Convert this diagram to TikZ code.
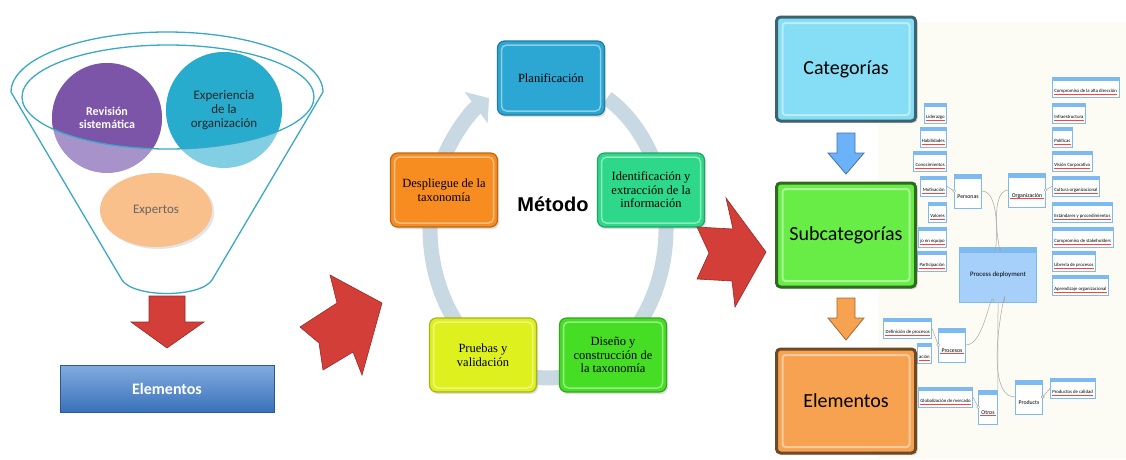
\documentclass[tikz,border=0pt]{standalone}
\usepackage{fontspec}
\setmainfont{Carlito}
\newfontfamily\stagefont{Liberation Serif}
\newfontfamily\titlefont{Liberation Sans}
\usetikzlibrary{arrows.meta,shapes.geometric,shadows}
\definecolor{funnelline}{RGB}{58,168,200}
\definecolor{revdark}{RGB}{124,84,168}
\definecolor{revlight}{RGB}{168,146,202}
\definecolor{expdark}{RGB}{40,172,206}
\definecolor{explight}{RGB}{130,206,226}
\definecolor{expertfill}{RGB}{250,192,140}
\definecolor{arrowred}{RGB}{212,62,56}
\definecolor{elemblue}{RGB}{62,126,206}
\definecolor{ringcol}{RGB}{200,217,228}
\definecolor{planfill}{RGB}{44,166,210}
\definecolor{identfill}{RGB}{46,216,138}
\definecolor{disfill}{RGB}{70,222,36}
\definecolor{pruefill}{RGB}{222,240,30}
\definecolor{despfill}{RGB}{247,140,32}
\definecolor{catfill}{RGB}{134,222,246}
\definecolor{subfill}{RGB}{104,236,70}
\definecolor{elefill}{RGB}{246,162,80}
\definecolor{mmblue}{RGB}{126,186,242}
\definecolor{mmbody}{RGB}{166,208,250}
\definecolor{mmback}{RGB}{252,252,244}
\tikzset{funnel/.style={draw=funnelline, line width=1.3pt},
         source/.style={circle, inner sep=0pt, minimum size=#1, align=center},
         stagebox/.style={draw=#1!75!black, fill=#1, rounded corners=7pt, line width=1.2pt,
                          minimum width=107pt, minimum height=74pt, inner sep=2pt, align=center,
                          font=\stagefont\fontsize{12.5}{13.5}\selectfont,
                          drop shadow={opacity=.25, shadow xshift=1.5pt, shadow yshift=-2pt},
                          path picture={\draw[#1!55!white, line width=1.5pt, rounded corners=5pt]
                            ([shift={(4pt,-4pt)}]path picture bounding box.north west) rectangle
                            ([shift={(-4pt,4pt)}]path picture bounding box.south east);}},
         levelbox/.style={draw=#1!45!black, fill=#1, rounded corners=4pt, line width=3pt,
                          minimum width=139pt, minimum height=104pt,
                          font=\fontsize{20}{24}\selectfont,
                          drop shadow={opacity=.3, shadow xshift=2pt, shadow yshift=-2pt},
                          path picture={\draw[#1!55!white, line width=2pt, rounded corners=3pt]
                            ([shift={(6pt,-6pt)}]path picture bounding box.north west) rectangle
                            ([shift={(-6pt,6pt)}]path picture bounding box.south east);}},
         ring/.style={draw=ringcol, line width=15pt, -{Triangle[length=16pt, width=38pt]}},
         redarrow/.style={fill=arrowred, draw=arrowred!70!black, line width=.6pt},
         downarrow/.style={fill=#1, draw=#1!65!black, line width=.8pt},
         mmheader/.style={path picture={\fill[mmblue] (path picture bounding box.north west)
                            rectangle ([yshift=-#1]path picture bounding box.north east);}},
         mmleaf/.style={draw=mmblue, fill=white, line width=.7pt, inner xsep=2pt, inner ysep=2pt,
                        text height=13pt, text depth=3pt, font=\fontsize{4.8}{5}\selectfont,
                        mmheader=4pt},
         mmtopic/.style={draw=mmblue, fill=white, line width=.7pt, inner xsep=3pt, inner ysep=4pt,
                         text height=20pt, text depth=6pt, font=\fontsize{5.8}{6}\selectfont,
                         mmheader=5pt},
         mmroot/.style={draw=mmblue, fill=mmbody, line width=.8pt, minimum width=77pt,
                        minimum height=55pt, font=\fontsize{6.8}{7}\selectfont, mmheader=5pt},
         spell/.style={append after command={([xshift=2pt,yshift=#1]\tikzlastnode.south west)
                        edge[draw=red!75, line width=.35pt] ([xshift=-2pt,yshift=#1]\tikzlastnode.south east)}},
         spell/.default=4pt,
         mmline/.style={draw=black!35, line width=.5pt},
         mmknob/.style={circle, draw=black!40, fill=white, inner sep=0pt, minimum size=3pt}}
\begin{document}
\begin{tikzpicture}[x=1pt,y=-1pt]
    \useasboundingbox (0,0) rectangle (1126,459);
    \fill[white] (0,0) rectangle (1126,459);
    \fill[mmback] (878,22) rectangle (1126,459);

    \coordinate (mouth) at (168,97);
    \node[source=110pt, fill=revlight, text=white, font=\bfseries\fontsize{12}{13}\selectfont,
          path picture={\fill[revdark] (mouth) ellipse [x radius=146pt, y radius=52pt];}]
          (rev) at (107,118) {Revisión\\sistemática};
    \node[source=116pt, fill=explight, text=black!85, font=\fontsize{13}{14}\selectfont,
          path picture={\fill[expdark] (mouth) ellipse [x radius=146pt, y radius=52pt];}]
          (expo) at (224,110) {Experiencia\\de la\\organización};
    \node[ellipse, minimum width=112pt, minimum height=74pt, fill=expertfill, text=black!60,
          font=\fontsize{13}{14}\selectfont, drop shadow={opacity=.2, shadow yshift=-2pt}]
          (expt) at (156,210) {Expertos};
    \draw[funnel] (11,92) arc[start angle=180, end angle=360, x radius=156, y radius=60]
          -- (212,280) .. controls (200,298) and (134,298) .. (122,280) -- cycle;
    \draw[funnel] (mouth) ellipse [x radius=146, y radius=52];

    \filldraw[redarrow] (149,296) -- (185,296) -- (185,322) -- (204,322) -- (167,348)
          -- (131,322) -- (149,322) -- cycle;
    \node[draw=elemblue!70!black, top color=elemblue!65!white, bottom color=elemblue!90!black,
          minimum width=214pt, minimum height=47pt, text=white,
          font=\bfseries\fontsize{16}{18}\selectfont] (elem) at (167,389) {Elementos};

    \filldraw[redarrow] (330,275) -- (382,303) -- (362,375) -- (353,352) -- (323,370)
          -- (319,343) -- (300,327) -- (337,303) -- cycle;

    \draw[ring] (548,228) ++(-60:118 and 150) arc[start angle=-60, end angle=240, x radius=118, y radius=150];
    \node[stagebox=planfill] (plan) at (551,78) {Planificación};
    \node[stagebox=identfill] (ident) at (651,190) {Identificación y\\extracción de la\\información};
    \node[stagebox=disfill] (dise) at (613,355) {Diseño y\\construcción de\\la taxonomía};
    \node[stagebox=pruefill] (prue) at (483,355) {Pruebas y\\validación};
    \node[stagebox=despfill] (desp) at (444,190) {Despliegue de la\\taxonomía};
    \node[font=\titlefont\bfseries\fontsize{20}{22}\selectfont] (met) at (553,204) {Método};

    \filldraw[redarrow] (697,227) -- (733,229) -- (726,198) -- (766,252) -- (735,307)
          -- (732,281) -- (697,279) -- (709,253) -- cycle;

    \node[mmroot] (pd) at (998,275) {Process deployment};
    \node[mmtopic] (per) at (968,191) {Personas};
    \node[mmtopic, spell=9pt] (org) at (1027,190) {Organización};
    \node[mmtopic, spell=9pt] (proc) at (952,345) {Procesos};
    \node[mmtopic, spell=9pt] (otr) at (988,407) {Otros};
    \node[mmtopic] (prod) at (1029,397) {Products};

    \node[mmleaf, spell, anchor=north east] (lid) at (947,103) {Liderazgo};
    \node[mmleaf, spell, anchor=north east] (hab) at (947,127) {Habilidades};
    \node[mmleaf, spell, anchor=north east] (con) at (947,151) {Conocimientos};
    \node[mmleaf, spell, anchor=north east] (mot) at (947,176) {Motivación};
    \node[mmleaf, spell, anchor=north east] (val) at (947,202) {Valores};
    \node[mmleaf, spell, anchor=north east] (tra) at (947,227) {jo en equipo};
    \node[mmleaf, spell, anchor=north east] (par) at (947,251) {Participación};

    \node[mmleaf, spell, anchor=north west] (cad) at (1052,77) {Compromiso de la alta dirección};
    \node[mmleaf, spell, anchor=north west] (inf) at (1052,103) {Infraestructura};
    \node[mmleaf, spell, anchor=north west] (pol) at (1052,127) {Políticas};
    \node[mmleaf, spell, anchor=north west] (vis) at (1052,151) {Visión Corporativa};
    \node[mmleaf, spell, anchor=north west] (cul) at (1052,176) {Cultura organizacional};
    \node[mmleaf, spell, anchor=north west] (est) at (1052,202) {Estándares y procedimientos};
    \node[mmleaf, spell, anchor=north west] (cst) at (1052,227) {Compromiso de stakeholders};
    \node[mmleaf, spell, anchor=north west] (lib) at (1052,251) {Librería de procesos};
    \node[mmleaf, spell, anchor=north west] (apr) at (1052,275) {Aprendizaje organizacional};

    \node[mmleaf, spell, anchor=north east] (def) at (932,318) {Definición de procesos};
    \node[mmleaf, spell, anchor=north east] (doc) at (932,343) {ación};
    \node[mmleaf, spell, anchor=north east] (glo) at (973,387) {Globalización de mercado};
    \node[mmleaf, spell, anchor=north west] (pca) at (1050,378) {Productos de calidad};

    \draw[mmline] (pd.95) to[out=-95, in=0] (per.east);
    \draw[mmline] (pd.85) to[out=-85, in=180] (org.west);
    \draw[mmline] (pd.262) to[out=100, in=0] (proc.east);
    \draw[mmline] (pd.south) -- (otr.north east);
    \draw[mmline] (pd.282) to[out=80, in=180] (prod.west);
    \draw[mmline] (per.west) -- (mot.east);
    \draw[mmline] (org.east) -- (cul.west);
    \draw[mmline] (proc.west) -- (def.east);
    \draw[mmline] (otr.west) -- (glo.east);
    \draw[mmline] (prod.east) -- (pca.west);
    \node[mmknob] (k1) at (per.west) {};
    \node[mmknob] (k2) at (org.east) {};
    \node[mmknob] (k3) at (proc.west) {};
    \node[mmknob] (k4) at (otr.west) {};
    \node[mmknob] (k5) at (prod.east) {};

    \node[levelbox=catfill] (cat) at (846,69) {Categorías};
    \node[levelbox=subfill] (sub) at (846,235) {Subcategorías};
    \node[levelbox=elefill] (eler) at (846,401) {Elementos};
    \filldraw[downarrow=catfill!80!blue] (837,133) -- (855,133) -- (855,153) -- (864,153)
          -- (846,174) -- (828,153) -- (837,153) -- cycle;
    \filldraw[downarrow=elefill] (837,298) -- (855,298) -- (855,318) -- (864,318)
          -- (846,340) -- (828,318) -- (837,318) -- cycle;
\end{tikzpicture}
\end{document}
